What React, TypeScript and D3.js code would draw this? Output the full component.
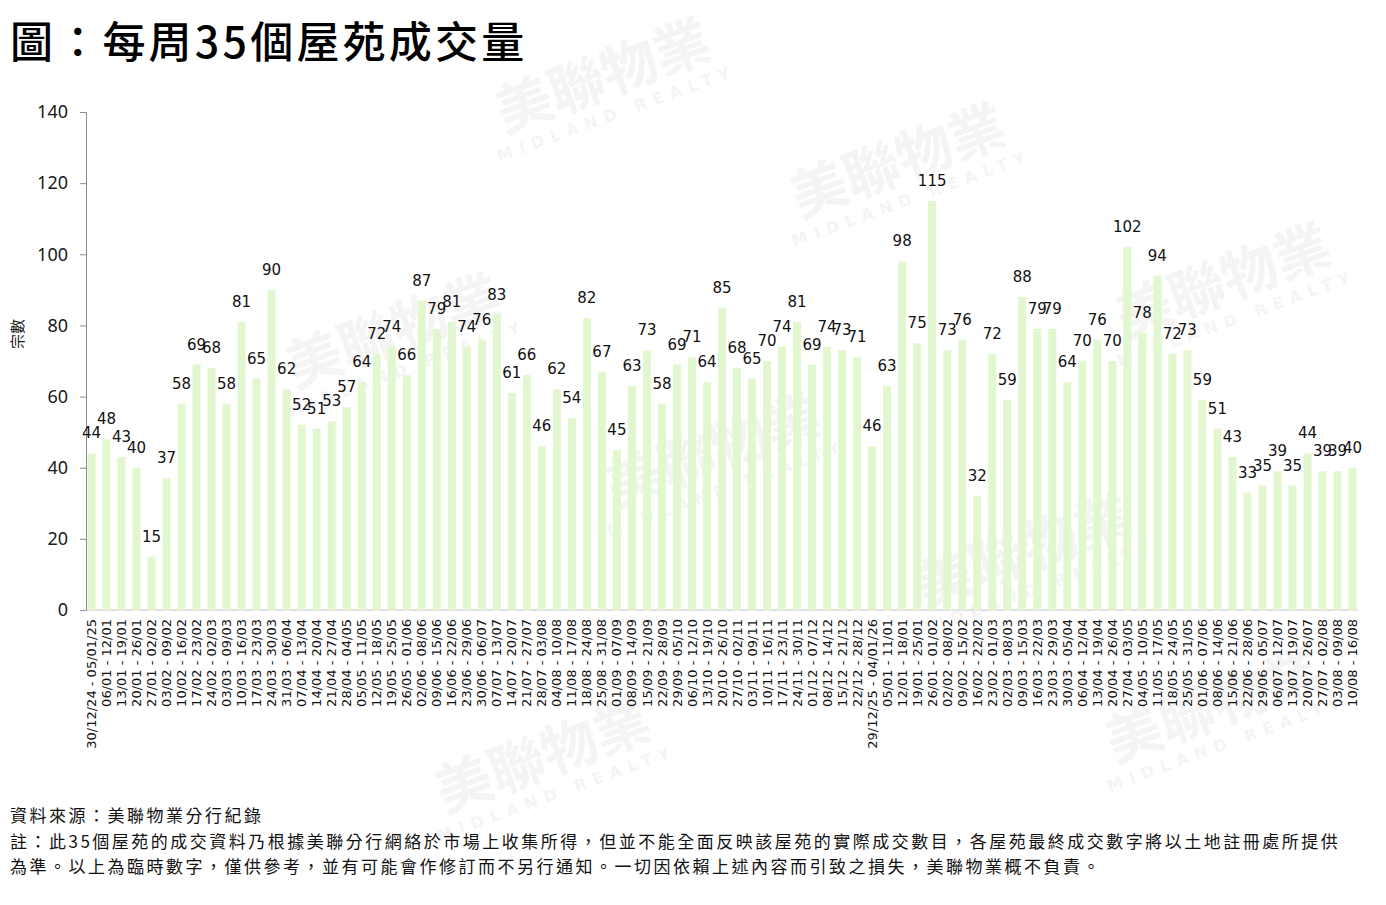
import React from 'react';
import * as d3 from 'd3';

// weekly ranges, 30/12/24 to 16/08/26
const weeks: string[] = [
  '30/12/24 - 05/01/25', '06/01 - 12/01', '13/01 - 19/01', '20/01 - 26/01', '27/01 - 02/02',
  '03/02 - 09/02', '10/02 - 16/02', '17/02 - 23/02', '24/02 - 02/03', '03/03 - 09/03',
  '10/03 - 16/03', '17/03 - 23/03', '24/03 - 30/03', '31/03 - 06/04', '07/04 - 13/04',
  '14/04 - 20/04', '21/04 - 27/04', '28/04 - 04/05', '05/05 - 11/05', '12/05 - 18/05',
  '19/05 - 25/05', '26/05 - 01/06', '02/06 - 08/06', '09/06 - 15/06', '16/06 - 22/06',
  '23/06 - 29/06', '30/06 - 06/07', '07/07 - 13/07', '14/07 - 20/07', '21/07 - 27/07',
  '28/07 - 03/08', '04/08 - 10/08', '11/08 - 17/08', '18/08 - 24/08', '25/08 - 31/08',
  '01/09 - 07/09', '08/09 - 14/09', '15/09 - 21/09', '22/09 - 28/09', '29/09 - 05/10',
  '06/10 - 12/10', '13/10 - 19/10', '20/10 - 26/10', '27/10 - 02/11', '03/11 - 09/11',
  '10/11 - 16/11', '17/11 - 23/11', '24/11 - 30/11', '01/12 - 07/12', '08/12 - 14/12',
  '15/12 - 21/12', '22/12 - 28/12', '29/12/25 - 04/01/26', '05/01 - 11/01', '12/01 - 18/01',
  '19/01 - 25/01', '26/01 - 01/02', '02/02 - 08/02', '09/02 - 15/02', '16/02 - 22/02',
  '23/02 - 01/03', '02/03 - 08/03', '09/03 - 15/03', '16/03 - 22/03', '23/03 - 29/03',
  '30/03 - 05/04', '06/04 - 12/04', '13/04 - 19/04', '20/04 - 26/04', '27/04 - 03/05',
  '04/05 - 10/05', '11/05 - 17/05', '18/05 - 24/05', '25/05 - 31/05', '01/06 - 07/06',
  '08/06 - 14/06', '15/06 - 21/06', '22/06 - 28/06', '29/06 - 05/07', '06/07 - 12/07',
  '13/07 - 19/07', '20/07 - 26/07', '27/07 - 02/08', '03/08 - 09/08', '10/08 - 16/08',
];

const deals: number[] = [
  44, 48, 43, 40, 15, 37, 58, 69, 68, 58,
  81, 65, 90, 62, 52, 51, 53, 57, 64, 72,
  74, 66, 87, 79, 81, 74, 76, 83, 61, 66,
  46, 62, 54, 82, 67, 45, 63, 73, 58, 69,
  71, 64, 85, 68, 65, 70, 74, 81, 69, 74,
  73, 71, 46, 63, 98, 75, 115, 73, 76, 32,
  72, 59, 88, 79, 79, 64, 70, 76, 70, 102,
  78, 94, 72, 73, 59, 51, 43, 33, 35, 39,
  35, 44, 39, 39, 40,
];

const yTicks: number[] = [0, 20, 40, 60, 80, 100, 120, 140];

const title = '圖：每周35個屋苑成交量';
const yTitle = '宗數';
const notes: string[] = [
  '資料來源：美聯物業分行紀錄',
  '註：此35個屋苑的成交資料乃根據美聯分行網絡於市場上收集所得，但並不能全面反映該屋苑的實際成交數目，各屋苑最終成交數字將以土地註冊處所提供',
  '為準。以上為臨時數字，僅供參考，並有可能會作修訂而不另行通知。一切因依賴上述內容而引致之損失，美聯物業概不負責。',
];

// faint brand watermark spots (kept inside the page)
const marks: [number, number][] = [
  [610, 95], [905, 180], [400, 350], [1230, 300], [720, 470], [1030, 570], [550, 775], [1220, 725],
];

const W = 1386;
const H = 905;
const cjk = '"Noto Sans CJK TC", "Noto Sans", sans-serif';

export default function App() {
  const x = d3.scaleBand<string>()
    .domain(weeks)
    .range([86, 1358])
    .paddingInner(0.47)
    .paddingOuter(0.1);

  const y = d3.scaleLinear().domain([0, 140]).range([610, 112]);

  const axisRef = React.useRef<SVGGElement>(null);

  React.useEffect(() => {
    if (!axisRef.current) return;
    const g = d3.select(axisRef.current);
    g.selectAll('*').remove();
    g.call(d3.axisLeft(y).tickValues(yTicks).tickSize(6).tickPadding(12).tickFormat(d3.format('d')));
    g.selectAll('path, line').attr('stroke', '#8c8c8c');
    g.selectAll('text')
      .attr('font-family', '"Noto Sans", sans-serif')
      .attr('font-size', 18)
      .attr('fill', '#1a1a1a');
  }, []);

  return (
    <svg width={W} height={H} style={{ position: 'absolute', left: 0, top: 0, background: '#fff' }}>
      <rect width={W} height={H} fill="#fff" />

      {marks.map(([mx, my], i) => (
        <g key={i} transform={`translate(${mx},${my}) rotate(-20)`} fill="#000" opacity={0.04}>
          <text textAnchor="middle" fontFamily={cjk} fontWeight="bold" fontSize={56}>美聯物業</text>
          <text textAnchor="middle" y={25} fontFamily="DejaVu Sans, sans-serif" fontWeight="bold"
            fontSize={16} letterSpacing={7}>MIDLAND REALTY</text>
        </g>
      ))}

      <text x={10} y={58} fontFamily={cjk} fontWeight={500} fontSize={43} letterSpacing={3.2}>{title}</text>

      <line x1={86} x2={1358} y1={y(0)} y2={y(0)} stroke="#d9d9d9" strokeWidth={1.5} />

      {deals.map((v, i) => (
        <rect key={weeks[i]} x={x(weeks[i])} y={y(v)} width={x.bandwidth()} height={y(0) - y(v)} fill="#e2f6d0" />
      ))}

      <g ref={axisRef} transform="translate(86,0)" />

      {deals.map((v, i) => (
        <text key={`l${i}`} x={(x(weeks[i]) || 0) + x.bandwidth() / 2} y={y(v) - 15}
          textAnchor="middle" fontFamily="DejaVu Sans, sans-serif" fontSize={15} fill="#111">{v}</text>
      ))}

      {weeks.map((w) => (
        <text key={`w${w}`} transform={`translate(${(x(w) || 0) + x.bandwidth() / 2},619) rotate(-90)`}
          textAnchor="end" dy="0.35em" fontFamily="DejaVu Sans, sans-serif" fontSize={13} fill="#111">{w}</text>
      ))}

      <text transform="translate(23,334) rotate(-90)" textAnchor="middle" fontFamily={cjk} fontSize={15} fill="#111">{yTitle}</text>

      {notes.map((t, i) => (
        <text key={`n${i}`} x={10} y={822 + i * 25.5} fontFamily={cjk} fontSize={17} letterSpacing={2.5} fill="#111">{t}</text>
      ))}
    </svg>
  );
}
